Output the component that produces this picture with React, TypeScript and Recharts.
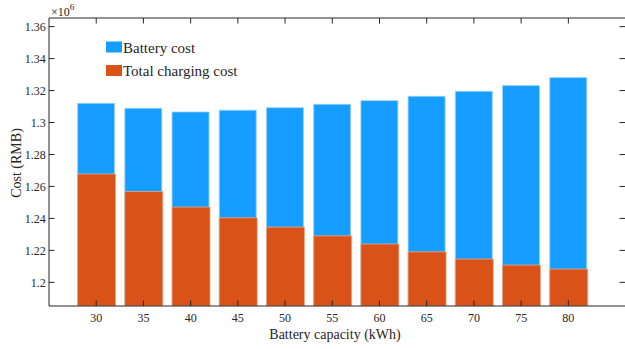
import { BarChart, Bar, XAxis, YAxis, ReferenceLine } from "recharts";

const capacities = [30, 35, 40, 45, 50, 55, 60, 65, 70, 75, 80];
// top of the blue bar (x10^6 RMB)
const batteryCost = [1.312, 1.3089, 1.3066, 1.3077, 1.3093, 1.3114, 1.3137, 1.3164, 1.3195, 1.3231, 1.3281];
// orange bar (x10^6 RMB)
const chargingCost = [1.2678, 1.2569, 1.2471, 1.2404, 1.2346, 1.2291, 1.224, 1.2191, 1.2146, 1.2108, 1.2083];
const yTicks = [1.2, 1.22, 1.24, 1.26, 1.28, 1.3, 1.32, 1.34, 1.36];

const data = capacities.map((c, i) => ({
  capacity: c,
  battery: batteryCost[i],
  charging: chargingCost[i],
}));

const FONT = '"Liberation Serif", "Times New Roman", serif';
const INK = "#262626";
const BLUE = "#159EFF";
const ORANGE = "#D95319";
const X_DOMAIN: [number, number] = [25, 86];
const Y_DOMAIN: [number, number] = [1.1852, 1.3654];
const PLOT_TOP = 18;
const PLOT_RIGHT = 625;

const fmt = (v: number) => String(+v.toFixed(2));

// bottom tick + label, plus the matching inward tick on the top box edge
const BottomTick = (props: any) => {
  const { x, y, payload } = props;
  return (
    <g>
      <line x1={x} x2={x} y1={y} y2={y - 5.5} stroke={INK} strokeWidth={1} />
      <line x1={x} x2={x} y1={PLOT_TOP} y2={PLOT_TOP + 5.5} stroke={INK} strokeWidth={1} />
      <text x={x} y={y + 15.7} textAnchor="middle" fontSize={12} fontFamily={FONT} fill={INK}>
        {payload.value}
      </text>
    </g>
  );
};

// left tick + label, plus the matching inward tick on the right box edge
const LeftTick = (props: any) => {
  const { x, y, payload } = props;
  return (
    <g>
      <line x1={x} x2={x + 5.5} y1={y} y2={y} stroke={INK} strokeWidth={1} />
      <line x1={PLOT_RIGHT} x2={PLOT_RIGHT - 5.5} y1={y} y2={y} stroke={INK} strokeWidth={1} />
      <text x={x - 3.3} y={y + 4.3} textAnchor="end" fontSize={12} fontFamily={FONT} fill={INK}>
        {fmt(payload.value)}
      </text>
    </g>
  );
};

const LegendBox = () => (
  <svg width={180} height={46} style={{ position: "absolute", left: 106, top: 38 }}>
    <rect x={0} y={3.5} width={16} height={11} fill={BLUE} />
    <text x={17} y={14.5} fontSize={15} fontFamily={FONT} fill={INK}>
      Battery cost
    </text>
    <rect x={0} y={27} width={16} height={11} fill={ORANGE} />
    <text x={17} y={38} fontSize={15} fontFamily={FONT} fill={INK}>
      Total charging cost
    </text>
  </svg>
);

const Multiplier = () => (
  <div
    style={{
      position: "absolute",
      left: 51,
      top: 5.6,
      fontFamily: FONT,
      fontSize: 12,
      lineHeight: "12px",
      color: INK,
      whiteSpace: "nowrap",
    }}
  >
    ×10
    <span style={{ fontSize: 9, position: "relative", top: -6 }}>6</span>
  </div>
);

export default function App() {
  return (
    <div style={{ position: "absolute", left: 0, top: 0, width: 625, height: 349, background: "#fff" }}>
      <BarChart
        width={625}
        height={349}
        data={data}
        margin={{ top: PLOT_TOP, right: 0, bottom: 0, left: 0 }}
      >
        <XAxis
          xAxisId="main"
          dataKey="capacity"
          type="number"
          domain={X_DOMAIN}
          ticks={capacities}
          allowDataOverflow
          height={43}
          tickSize={0}
          tickMargin={0}
          tick={BottomTick}
          axisLine={{ stroke: INK, strokeWidth: 1 }}
          label={{
            content: () => (
              <text x={335} y={339.3} textAnchor="middle" fontSize={14} fontFamily={FONT} fill={INK}>
                Battery capacity (kWh)
              </text>
            ),
          }}
        />
        <XAxis
          xAxisId="front"
          orientation="top"
          dataKey="capacity"
          type="number"
          domain={X_DOMAIN}
          allowDataOverflow
          height={0}
          hide
        />
        <YAxis
          yAxisId="left"
          type="number"
          domain={Y_DOMAIN}
          ticks={yTicks}
          allowDataOverflow
          width={49}
          tickSize={0}
          tickMargin={0}
          tick={LeftTick}
          axisLine={{ stroke: INK, strokeWidth: 1 }}
          label={{
            content: () => (
              <text
                x={20.5}
                y={163}
                textAnchor="middle"
                fontSize={14}
                fontFamily={FONT}
                fill={INK}
                transform="rotate(-90 20.5 163)"
              >
                Cost (RMB)
              </text>
            ),
          }}
        />
        <Bar
          xAxisId="main"
          yAxisId="left"
          dataKey="battery"
          name="Battery cost"
          fill={BLUE}
          stroke="#9ad2ff"
          strokeWidth={0.8}
          barSize={37}
          isAnimationActive={false}
        />
        <Bar
          xAxisId="front"
          yAxisId="left"
          dataKey="charging"
          name="Total charging cost"
          fill={ORANGE}
          stroke="#eba98c"
          strokeWidth={0.8}
          barSize={38}
          isAnimationActive={false}
        />
        <ReferenceLine
          xAxisId="main"
          yAxisId="left"
          y={Y_DOMAIN[1]}
          stroke={INK}
          strokeWidth={1}
          ifOverflow="visible"
        />
      </BarChart>
      <LegendBox />
      <Multiplier />
    </div>
  );
}
